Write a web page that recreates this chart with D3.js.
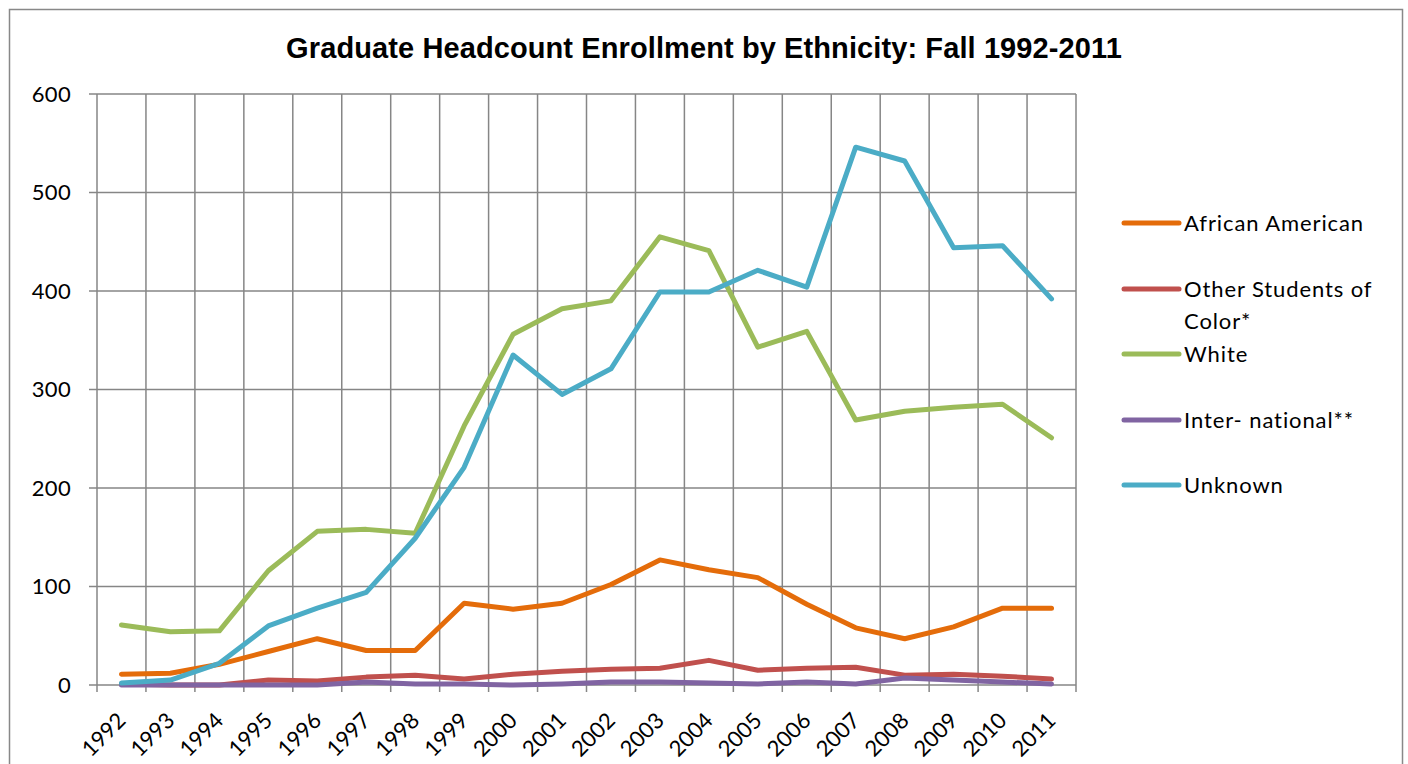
<!DOCTYPE html>
<html>
<head>
<meta charset="utf-8">
<script src="https://cdn.jsdelivr.net/npm/d3@7"></script>
<style>
  body { margin: 0; background: #fff; }
  text { font-family: Lato, "Open Sans", sans-serif; fill: #000; }
</style>
</head>
<body>
<script>
var width = 1408,
    height = 764;

// chart data
var years = ["1992", "1993", "1994", "1995", "1996", "1997", "1998", "1999", "2000", "2001",
             "2002", "2003", "2004", "2005", "2006", "2007", "2008", "2009", "2010", "2011"];
var africanAmerican = [11, 12, 21, 34, 47, 35, 35, 83, 77, 83, 102, 127, 117, 109, 82, 58, 47, 59, 78, 78];
var otherColor      = [1, 0, 0, 5, 4, 8, 10, 6, 11, 14, 16, 17, 25, 15, 17, 18, 10, 11, 9, 6];
var white           = [61, 54, 55, 116, 156, 158, 154, 263, 356, 382, 390, 455, 441, 343, 359, 269, 278, 282, 285, 251];
var international   = [0, 0, 0, 0, 0, 3, 1, 1, 0, 1, 3, 3, 2, 1, 3, 1, 7, 5, 3, 1];
var unknown         = [2, 5, 22, 60, 78, 94, 149, 221, 335, 295, 321, 399, 399, 421, 404, 546, 532, 444, 446, 392];
var seriesNames  = ["African American", "Other Students of Color*", "White", "Inter- national**", "Unknown"];
var seriesColors = ["#e46c0a", "#c0504d", "#9bbb59", "#8064a2", "#4bacc6"];
var yTicks = [0, 100, 200, 300, 400, 500, 600];

var series = [africanAmerican, otherColor, white, international, unknown].map(function(v, i) {
  return { name: seriesNames[i], color: seriesColors[i], values: v };
});

var plot = { left: 97, top: 94, right: 1076, bottom: 685 };

var svg = d3.select("body").append("svg")
    .attr("width", width)
    .attr("height", height);

// outer chart border (runs off the bottom of the frame)
svg.append("rect")
    .attr("x", 9.5).attr("y", 9.5)
    .attr("width", 1393).attr("height", 800)
    .attr("fill", "none")
    .attr("stroke", "#888")
    .attr("stroke-width", 1.5);

svg.append("text")
    .attr("x", 704).attr("y", 58)
    .attr("text-anchor", "middle")
    .style("font-family", "'Liberation Sans', Arial, sans-serif")
    .style("font-weight", "bold")
    .style("font-size", "29px")
    .style("letter-spacing", "0.1px")
    .text("Graduate Headcount Enrollment by Ethnicity: Fall 1992-2011");

var x = d3.scaleBand()
    .domain(years)
    .range([plot.left, plot.right])
    .padding(0);

var y = d3.scaleLinear()
    .domain([0, 600])
    .range([plot.bottom, plot.top]);

var grid = svg.append("g").attr("stroke", "#868686").attr("stroke-width", 1.5);

// horizontal gridlines + left ticks
grid.selectAll(".hl").data(yTicks).enter().append("line")
    .attr("x1", plot.left - 8).attr("x2", plot.right)
    .attr("y1", function(d) { return y(d); })
    .attr("y2", function(d) { return y(d); });

// vertical gridlines at category boundaries, ticks below axis
var bounds = years.map(function(d) { return x(d); }).concat([plot.right]);
grid.selectAll(".vl").data(bounds).enter().append("line")
    .attr("x1", function(d) { return d; })
    .attr("x2", function(d) { return d; })
    .attr("y1", plot.top).attr("y2", plot.bottom + 7);

// y labels
svg.append("g").selectAll("text").data(yTicks).enter().append("text")
    .attr("x", 71)
    .attr("y", function(d) { return y(d); })
    .attr("dy", "0.35em")
    .attr("text-anchor", "end")
    .style("font-size", "22px")
    .style("letter-spacing", "0.3px")
    .text(function(d) { return d; });

// x labels, rotated
svg.append("g").selectAll("text").data(years).enter().append("text")
    .attr("transform", function(d) {
      return "translate(" + (x(d) + x.bandwidth() / 2 + 5.5) + ",722) rotate(-45)";
    })
    .attr("text-anchor", "end")
    .style("font-size", "22px")
    .text(function(d) { return d; });

var line = d3.line()
    .x(function(d, i) { return x(years[i]) + x.bandwidth() / 2; })
    .y(function(d) { return y(d); });

svg.append("g").selectAll("path").data(series).enter().append("path")
    .attr("d", function(s) { return line(s.values); })
    .attr("fill", "none")
    .attr("stroke", function(s) { return s.color; })
    .attr("stroke-width", 5)
    .attr("stroke-linejoin", "round")
    .attr("stroke-linecap", "round");

// legend
var legendY = [223, 289, 354, 420, 485];
var legend = svg.append("g").selectAll("g").data(series).enter().append("g")
    .attr("transform", function(s, i) { return "translate(1124," + legendY[i] + ")"; });

legend.append("line")
    .attr("x1", 0).attr("x2", 55)
    .attr("stroke", function(s) { return s.color; })
    .attr("stroke-width", 5)
    .attr("stroke-linecap", "round");

legend.append("text")
    .attr("x", 60)
    .attr("dy", "0.35em")
    .style("font-size", "22px")
    .style("letter-spacing", "0.9px")
    .each(function(s) {
      var t = d3.select(this);
      if (s.name === "Other Students of Color*") {
        t.append("tspan").attr("x", 60).text("Other Students of");
        t.append("tspan").attr("x", 60).attr("dy", 32).text("Color*");
      } else {
        t.text(s.name);
      }
    });
</script>
</body>
</html>
